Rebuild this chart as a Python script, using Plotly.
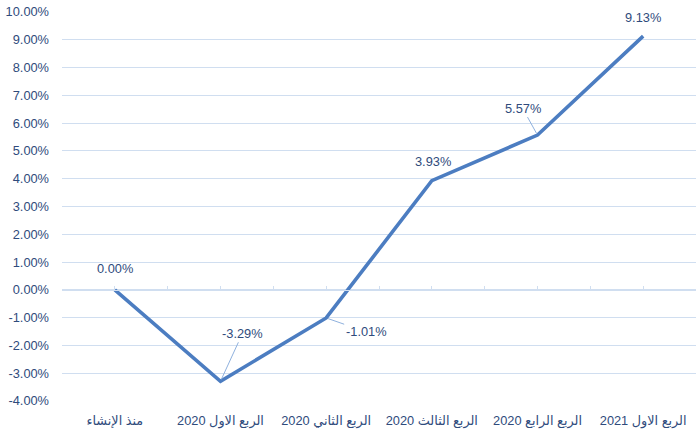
import plotly.graph_objects as go

categories = ["منذ الإنشاء", "الربع الاول 2020", "الربع الثاني 2020",
              "الربع الثالث 2020", "الربع الرابع 2020", "الربع الاول 2021"]
values = [0.0, -3.29, -1.01, 3.93, 5.57, 9.13]
value_labels = ["0.00%", "-3.29%", "-1.01%", "3.93%", "5.57%", "9.13%"]
y_ticks = [10, 9, 8, 7, 6, 5, 4, 3, 2, 1, 0, -1, -2, -3, -4]
y_tick_labels = ["%.2f%%" % v for v in y_ticks]

RLE, PDF = "\u202b", "\u202c"
cat_display = [RLE + c + PDF for c in categories]

TEXT = "#2F4B7C"
GRID = "#D0DEF0"
LINE = "#4C7DC1"
LEADER = "#8FB1DE"
FONT = "Liberation Sans, DejaVu Sans, Arial, sans-serif"

fig = go.Figure()
fig.add_trace(go.Scatter(x=cat_display, y=values, mode="lines",
                         line=dict(color=LINE, width=3.6), showlegend=False,
                         hoverinfo="skip"))
fig.add_trace(go.Scatter(x=[], y=[], xaxis="x2", showlegend=False))

# label offsets (pixels) for each point: (ax, ay, leader)
offsets = [(0, -21, False), (22, -48, True), (40, 14, True),
           (1, -19, False), (-15, -27, True), (0, -19, False)]
for c, v, t, (ax, ay, leader) in zip(cat_display, values, value_labels, offsets):
    if leader:
        fig.add_annotation(x=c, y=v, text=t, showarrow=True, arrowhead=0,
                           arrowwidth=1, arrowcolor=LEADER, ax=ax, ay=ay,
                           standoff=2, font=dict(size=12.8, color=TEXT, family=FONT))
    else:
        fig.add_annotation(x=c, y=v, text=t, showarrow=False, yshift=-ay,
                           xshift=ax,
                           font=dict(size=12.8, color=TEXT, family=FONT))

fig.update_layout(
    width=696, height=434,
    margin=dict(l=62, r=0, t=12, b=33, autoexpand=False),
    paper_bgcolor="white", plot_bgcolor="white",
    font=dict(family=FONT, color=TEXT, size=12.8),
    xaxis=dict(type="category", showgrid=False, showline=False, zeroline=False,
               ticks="", tickfont=dict(size=12.8, color=TEXT),
               ticklabelstandoff=10,
               range=[-0.5, 5.5], automargin=False),
    xaxis2=dict(overlaying="x", anchor="free", position=4 / 14, side="bottom",
                range=[-0.5, 5.5], tickmode="linear", tick0=-0.5, dtick=0.5,
                ticks="inside", ticklen=4, tickcolor=GRID, tickwidth=1,
                showticklabels=False, showline=True, linecolor=GRID, linewidth=1,
                showgrid=False, zeroline=False, automargin=False),
    yaxis=dict(range=[-4, 10], tickvals=y_ticks, ticktext=y_tick_labels,
               showgrid=True, gridcolor=GRID, gridwidth=1, zeroline=False,
               showline=False, ticks="", ticklabelstandoff=12,
               tickfont=dict(size=12.8, color=TEXT), automargin=False),
)

fig.write_html("out.html", config={"displayModeBar": False},
               post_script="document.body.style.margin='0';document.body.style.overflow='hidden';")
